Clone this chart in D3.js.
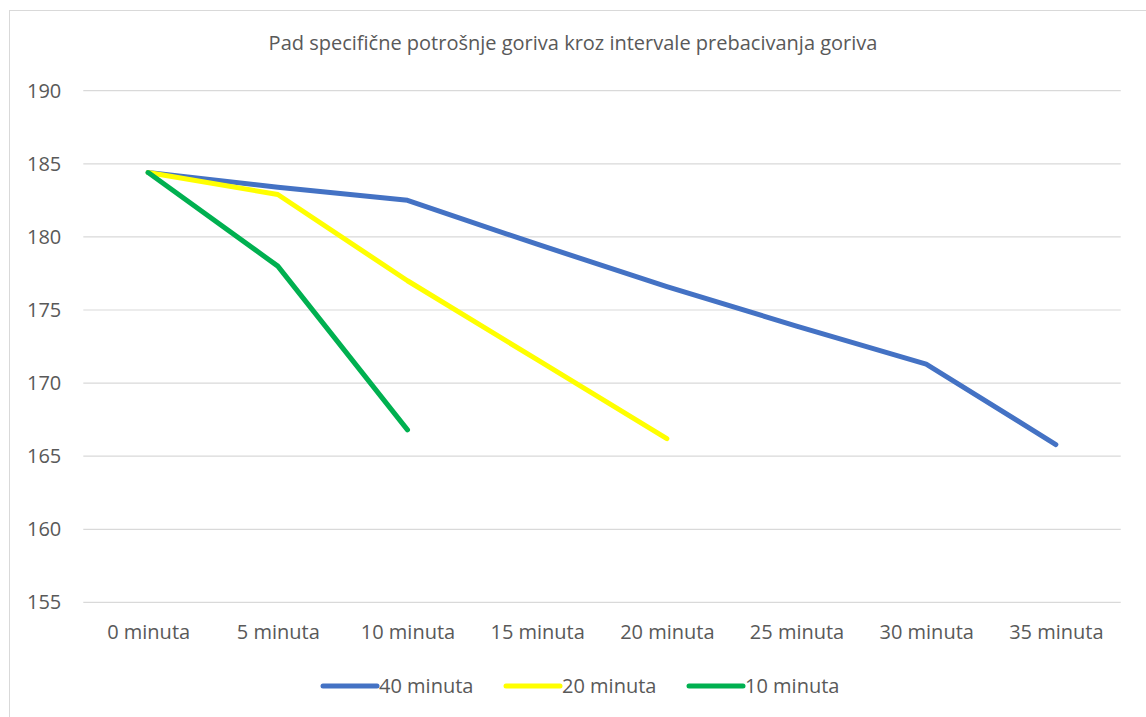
<!DOCTYPE html>
<html>
<head>
<meta charset="utf-8">
<script src="https://cdn.jsdelivr.net/npm/d3@7"></script>
<style>
  html, body { margin: 0; padding: 0; background: #fff; }
  svg { display: block; font-family: "Open Sans", Lato, sans-serif; }
</style>
</head>
<body>
<div id="chart"></div>
<script>
// categories on the x axis
const categories = ['0 minuta', '5 minuta', '10 minuta', '15 minuta',
  '20 minuta', '25 minuta', '30 minuta', '35 minuta'];

// series values (null = no point)
const series40 = [184.4, 183.4, 182.5, 179.5, 176.6, 173.9, 171.3, 165.8];
const series20 = [184.4, 182.9, 177.0, 171.6, 166.2, null, null, null];
const series10 = [184.4, 178.0, 166.8, null, null, null, null, null];

const seriesNames = ['40 minuta', '20 minuta', '10 minuta'];
const seriesColors = ['#4472C4', '#FFFF00', '#00B050'];

const yTicks = [155, 160, 165, 170, 175, 180, 185, 190];
const title = 'Pad specifične potrošnje goriva kroz intervale prebacivanja goriva';

const width = 1146, height = 717;
const plot = { left: 83.3, right: 1120.7, top: 90.7, bottom: 602.4 };
const fontSize = 20;

const svg = d3.select('#chart').append('svg')
  .attr('width', width)
  .attr('height', height);

svg.append('rect').attr('width', width).attr('height', height).attr('fill', '#fff');

// chart frame (right and bottom edges fall outside the picture)
svg.append('rect')
  .attr('x', 9.5).attr('y', 10.5)
  .attr('width', 1150).attr('height', 720)
  .attr('fill', 'none')
  .attr('stroke', '#D9D9D9')
  .attr('stroke-width', 1);

const x = d3.scalePoint()
  .domain(categories)
  .range([plot.left, plot.right])
  .padding(0.5);

const y = d3.scaleLinear()
  .domain([155, 190])
  .range([plot.bottom, plot.top]);

// gridlines
svg.append('g')
  .selectAll('line')
  .data(yTicks)
  .join('line')
  .attr('x1', plot.left).attr('x2', plot.right)
  .attr('y1', d => y(d)).attr('y2', d => y(d))
  .attr('stroke', '#D9D9D9')
  .attr('stroke-width', 1.2);

// y axis labels
const yAxis = d3.axisLeft(y).tickValues(yTicks).tickSize(0).tickPadding(22);
svg.append('g')
  .attr('transform', `translate(${plot.left},0)`)
  .call(yAxis)
  .call(g => g.select('.domain').remove())
  .call(g => g.selectAll('text')
    .attr('fill', '#595959')
    .attr('font-size', fontSize)
    .attr('font-family', '"Open Sans", Lato, sans-serif'));

// x axis labels
const xAxis = d3.axisBottom(x).tickSize(0).tickPadding(22);
svg.append('g')
  .attr('transform', `translate(0,${plot.bottom})`)
  .call(xAxis)
  .call(g => g.select('.domain').remove())
  .call(g => g.selectAll('text')
    .attr('fill', '#595959')
    .attr('font-size', fontSize)
    .attr('font-family', '"Open Sans", Lato, sans-serif'));

// title
svg.append('text')
  .attr('x', (plot.left + plot.right) / 2 - 29)
  .attr('y', 50)
  .attr('text-anchor', 'middle')
  .attr('fill', '#595959')
  .attr('font-size', 20)
  .text(title);

// lines
const allSeries = [series40, series20, series10];
const line = d3.line()
  .defined(d => d.v != null)
  .x(d => x(d.c))
  .y(d => y(d.v));

svg.append('g')
  .selectAll('path')
  .data(allSeries)
  .join('path')
  .attr('d', s => line(s.map((v, i) => ({ c: categories[i], v }))))
  .attr('fill', 'none')
  .attr('stroke', (s, i) => seriesColors[i])
  .attr('stroke-width', 5)
  .attr('stroke-linecap', 'round')
  .attr('stroke-linejoin', 'round');

// legend
const legendX = [323, 506, 689];
const legend = svg.append('g')
  .selectAll('g')
  .data(seriesNames)
  .join('g')
  .attr('transform', (d, i) => `translate(${legendX[i]},686)`);

legend.append('line')
  .attr('x1', 0).attr('x2', 54)
  .attr('y1', 0).attr('y2', 0)
  .attr('stroke', (d, i) => seriesColors[i])
  .attr('stroke-width', 5)
  .attr('stroke-linecap', 'round');

legend.append('text')
  .attr('x', 56)
  .attr('y', 0)
  .attr('dy', '0.35em')
  .attr('fill', '#595959')
  .attr('font-size', fontSize)
  .text(d => d);
</script>
</body>
</html>
